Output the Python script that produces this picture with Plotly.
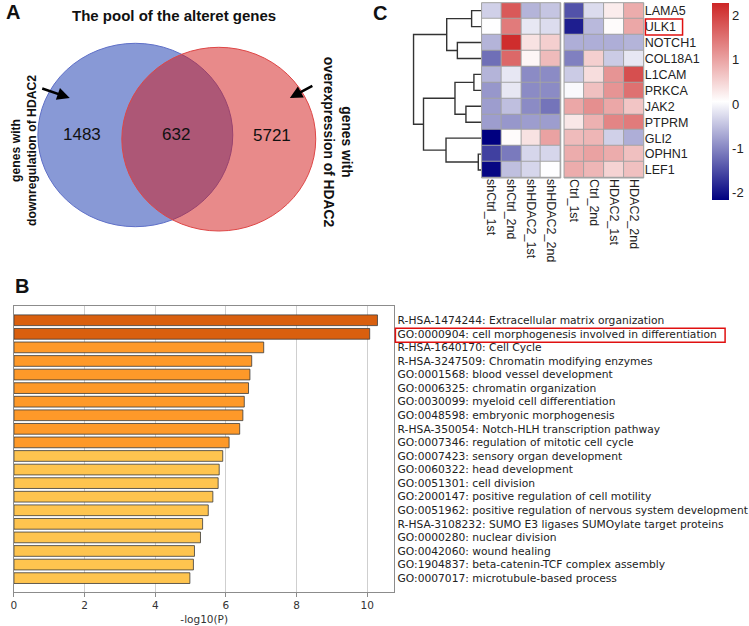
import plotly.graph_objects as go

W, H = 749, 626
def px(x): return x / W
def py(y): return 1 - y / H

# ---------------- Panel A data ----------------
venn_title = "The pool of the alteret genes"
venn_counts = [1483, 632, 5721]
venn_left_label = "genes with<br>downregulation of HDAC2"
venn_right_label = "genes with<br>overexpression of HDAC2"

# ---------------- Panel B data ----------------
terms = [
    "R-HSA-1474244: Extracellular matrix organization",
    "GO:0000904: cell morphogenesis involved in differentiation",
    "R-HSA-1640170: Cell Cycle",
    "R-HSA-3247509: Chromatin modifying enzymes",
    "GO:0001568: blood vessel development",
    "GO:0006325: chromatin organization",
    "GO:0030099: myeloid cell differentiation",
    "GO:0048598: embryonic morphogenesis",
    "R-HSA-350054: Notch-HLH transcription pathway",
    "GO:0007346: regulation of mitotic cell cycle",
    "GO:0007423: sensory organ development",
    "GO:0060322: head development",
    "GO:0051301: cell division",
    "GO:2000147: positive regulation of cell motility",
    "GO:0051962: positive regulation of nervous system development",
    "R-HSA-3108232: SUMO E3 ligases SUMOylate target proteins",
    "GO:0000280: nuclear division",
    "GO:0042060: wound healing",
    "GO:1904837: beta-catenin-TCF complex assembly",
    "GO:0007017: microtubule-based process",
]
neg_log10_p = [10.29, 10.07, 7.07, 6.73, 6.68, 6.64, 6.52, 6.48, 6.39, 6.09,
               5.91, 5.81, 5.78, 5.63, 5.50, 5.34, 5.28, 5.11, 5.08, 4.98]
bar_tiers = [0, 0, 1, 1, 1, 1, 1, 1, 1, 1, 2, 2, 2, 2, 2, 2, 2, 2, 2, 2]
tier_colors = ["#D95F0E", "#FE9929", "#FEC44F"]

# ---------------- Panel C data ----------------
genes = ["LAMA5", "ULK1", "NOTCH1", "COL18A1", "L1CAM", "PRKCA",
         "JAK2", "PTPRM", "GLI2", "OPHN1", "LEF1"]
samples_left = ["shCtrl_1st", "shCtrl_2nd", "shHDAC2_1st", "shHDAC2_2nd"]
samples_right = ["Ctrl_1st", "Ctrl_2nd", "HDAC2_1st", "HDAC2_2nd"]
shCtrl_1st = [-0.35, 0.05, -0.60, -1.20, -0.60, -0.85, -0.80, -0.80, -2.16, -1.60, -2.10]
shCtrl_2nd = [1.75, 1.40, 2.20, 1.60, -0.15, -0.15, -0.50, -0.85, 0.10, -1.10, -0.50]
shHDAC2_1st = [-0.60, -0.15, 0.35, 0.15, -0.95, -0.95, -0.95, -0.80, 0.35, -0.30, -0.30]
shHDAC2_2nd = [-0.45, -0.25, 0.55, 0.75, -0.95, -0.95, -1.15, -0.80, 1.00, -0.30, 0.05]
Ctrl_1st = [-1.45, -1.90, -0.65, -1.05, -0.40, 0.00, 0.95, 0.30, 0.75, 0.90, 0.90]
Ctrl_2nd = [-0.25, -0.55, -0.65, 0.55, 0.40, 0.70, 1.20, 0.85, 0.80, 1.00, 0.80]
HDAC2_1st = [0.25, 0.10, -0.65, -0.40, 1.15, 1.15, 0.95, 1.30, -0.35, 0.90, 0.50]
HDAC2_2nd = [0.90, 0.95, -0.60, -0.15, 1.85, 1.50, 0.65, 1.40, -0.65, 0.70, 0.70]
z_min, z_max = -2.16, 2.27
cbar_ticks = [-2, -1, 0, 1, 2]
# row dendrogram merges: (child a, child b, height); leaves 0..10, new nodes 11..
row_merges = [
    (0, 1, 1.00), (2, 3, 2.43), (11, 12, 3.50),
    (4, 5, 0.77), (6, 7, 1.57), (14, 15, 2.67),
    (9, 10, 0.33), (8, 17, 3.57), (16, 18, 5.83),
    (13, 19, 6.83),
]

fig = go.Figure()

# ---------- Panel B bars ----------
fig.add_trace(go.Bar(
    x=neg_log10_p, y=list(range(len(terms))), orientation="h",
    marker=dict(color=[tier_colors[t] for t in bar_tiers],
                line=dict(color="#3a3a3a", width=0.8)),
    width=0.79, xaxis="x", yaxis="y", showlegend=False, hoverinfo="skip"))

# ---------- Panel C heatmaps ----------
cols_left = [shCtrl_1st, shCtrl_2nd, shHDAC2_1st, shHDAC2_2nd]
cols_right = [Ctrl_1st, Ctrl_2nd, HDAC2_1st, HDAC2_2nd]
zl = [[c[i] for c in cols_left] for i in range(len(genes))]
zr = [[c[i] for c in cols_right] for i in range(len(genes))]
fig.add_trace(go.Heatmap(z=zl, x=list(range(4)), y=list(range(len(genes))),
                         coloraxis="coloraxis", xgap=1, ygap=1,
                         xaxis="x2", yaxis="y2", hoverinfo="skip"))
fig.add_trace(go.Heatmap(z=zr, x=list(range(4)), y=list(range(len(genes))),
                         coloraxis="coloraxis", xgap=1, ygap=1,
                         xaxis="x3", yaxis="y3", hoverinfo="skip"))

# ---------- Dendrogram ----------
pos = {i: float(i) for i in range(len(genes))}
hgt = {i: 0.0 for i in range(len(genes))}
dx, dy = [], []
nid = len(genes)
for a, b, h in row_merges:
    dx += [hgt[a], h, h, hgt[b], None]
    dy += [pos[a], pos[a], pos[b], pos[b], None]
    pos[nid] = (pos[a] + pos[b]) / 2
    hgt[nid] = h
    nid += 1
fig.add_trace(go.Scatter(x=dx, y=dy, mode="lines",
                         line=dict(color="#333333", width=1.4),
                         xaxis="x4", yaxis="y4", showlegend=False, hoverinfo="skip"))

heat_dom_y = [py(178), py(2.7)]
rowrange = [len(genes) - 0.5, -0.5]
lab_font = dict(family="Liberation Sans, Arial", size=12.5, color="#222")
dv_font = dict(family="DejaVu Sans", size=10.5, color="#333")

fig.update_layout(
    width=W, height=H, autosize=False,
    margin=dict(l=0, r=0, t=0, b=0),
    paper_bgcolor="white", plot_bgcolor="white",
    xaxis=dict(domain=[px(11), px(393)], anchor="y", range=[0, 10.77],
               tickvals=[0, 2, 4, 6, 8, 10], showgrid=True, gridcolor="#cfcfcf",
               gridwidth=1, zeroline=False, showline=True, mirror=True,
               linecolor="#8c8c8c", linewidth=1, ticks="outside", ticklen=4,
               tickcolor="#8c8c8c", tickfont=dv_font,
               title=dict(text="-log10(P)", font=dv_font, standoff=5)),
    yaxis=dict(domain=[py(591.7), py(306)], anchor="x", range=[20.0, -1.05],
               side="right", tickvals=list(range(len(terms))), ticktext=terms,
               tickfont=dict(family="DejaVu Sans", size=10.7, color="#222"),
               ticks="", showgrid=False, zeroline=False, showline=True, mirror=True,
               linecolor="#8c8c8c", linewidth=1),
    xaxis2=dict(domain=[px(480.5), px(560)], anchor="y2", range=[-0.5, 3.5],
                tickvals=list(range(4)), ticktext=samples_left, tickangle=90,
                tickfont=lab_font, ticks="", showgrid=False, zeroline=False, showline=False),
    yaxis2=dict(domain=heat_dom_y, anchor="x2", range=rowrange,
                showticklabels=False, ticks="", showgrid=False, zeroline=False),
    xaxis3=dict(domain=[px(563.3), px(643.3)], anchor="y3", range=[-0.5, 3.5],
                tickvals=list(range(4)), ticktext=samples_right, tickangle=90,
                tickfont=lab_font, ticks="", showgrid=False, zeroline=False, showline=False),
    yaxis3=dict(domain=heat_dom_y, anchor="x3", range=rowrange, side="right",
                tickvals=list(range(len(genes))), ticktext=genes, tickfont=lab_font,
                ticks="", showgrid=False, zeroline=False),
    xaxis4=dict(domain=[px(400), px(480.5)], anchor="y4", range=[8.05, 0],
                visible=False),
    yaxis4=dict(domain=heat_dom_y, anchor="x4", range=rowrange, visible=False),
    coloraxis=dict(colorscale=[[0, "#000080"], [0.5, "#ffffff"], [1, "#CD2626"]],
                   cmin=z_min, cmax=z_max,
                   colorbar=dict(x=px(711.7), xanchor="left", y=py(101.5), yanchor="middle",
                                 len=197 / H, lenmode="fraction", thickness=17,
                                 thicknessmode="pixels", xpad=0, ypad=0, outlinewidth=0,
                                 tickvals=cbar_ticks, ticktext=[str(t) for t in cbar_ticks],
                                 ticks="", tickfont=dict(family="Liberation Sans, Arial",
                                                         size=13, color="#222"))),
)

shapes = []
# heatmap cell border background
for xr, yr in [("x2 domain", "y2 domain"), ("x3 domain", "y3 domain")]:
    shapes.append(dict(type="rect", xref=xr, yref=yr, x0=0, x1=1, y0=0, y1=1,
                       fillcolor="#a3a3a3", line=dict(width=0), layer="below"))
    shapes.append(dict(type="rect", xref=xr, yref=yr, x0=0, x1=1, y0=0, y1=1,
                       fillcolor="rgba(0,0,0,0)", line=dict(color="#a3a3a3", width=1),
                       layer="above"))
# Venn circles
shapes.append(dict(type="circle", xref="paper", yref="paper",
                   x0=px(35), x1=px(230.7), y0=py(226.7), y1=py(43.3),
                   fillcolor="rgb(136,153,214)", line=dict(color="rgb(95,112,200)", width=1)))
shapes.append(dict(type="circle", xref="paper", yref="paper",
                   x0=px(119.3), x1=px(314), y0=py(231), y1=py(47.3),
                   fillcolor="rgba(209,21,21,0.5)", line=dict(color="rgb(222,70,70)", width=1)))
# highlight boxes
shapes.append(dict(type="rect", xref="paper", yref="paper",
                   x0=px(394), x1=px(725), y0=py(342.3), y1=py(328.3),
                   line=dict(color="#e01010", width=1.5)))
shapes.append(dict(type="rect", xref="paper", yref="paper",
                   x0=px(645), x1=px(682.3), y0=py(35), y1=py(19),
                   line=dict(color="#e01010", width=1.5)))
fig.update_layout(shapes=shapes)

ann = []
bold = dict(family="Liberation Sans, Arial", size=20, color="#111")
for t, x, y in [("A", 10, 12), ("B", 19, 286), ("C", 379, 13)]:
    ann.append(dict(text="<b>%s</b>" % t, x=px(x), y=py(y), xref="paper", yref="paper",
                    showarrow=False, font=bold, xanchor="center", yanchor="middle"))
ann.append(dict(text="<b>%s</b>" % venn_title, x=px(172), y=py(15), xref="paper",
                yref="paper", showarrow=False, xanchor="center", yanchor="middle",
                font=dict(family="Liberation Sans, Arial", size=15, color="#111")))
for v, x, y in zip(venn_counts, [79.5, 173.8, 270], [134.3, 134.3, 135.5]):
    ann.append(dict(text=str(v), x=px(x), y=py(y), xref="paper", yref="paper",
                    showarrow=False, xanchor="center", yanchor="middle",
                    font=dict(family="Liberation Sans, Arial", size=17, color="#111")))
ann.append(dict(text="<b>%s</b>" % venn_left_label, x=px(21), y=py(150), xref="paper",
                yref="paper", showarrow=False, textangle=-90, xanchor="center",
                yanchor="middle",
                font=dict(family="Liberation Sans, Arial", size=12.2, color="#111")))
ann.append(dict(text="<b>%s</b>" % venn_right_label, x=px(335.5), y=py(142), xref="paper",
                yref="paper", showarrow=False, textangle=90, xanchor="center",
                yanchor="middle",
                font=dict(family="Liberation Sans, Arial", size=13.8, color="#111")))
for hx, hy, axp, ayp in [(67, 98, -29, -10), (288, 98, 24, -13)]:
    ann.append(dict(text="", x=px(hx), y=py(hy), xref="paper", yref="paper",
                    showarrow=True, ax=axp, ay=ayp, arrowhead=2, arrowsize=1,
                    arrowwidth=2.5, arrowcolor="#000", standoff=0))
fig.update_layout(annotations=ann)

fig.write_html("out.html", config={"displayModeBar": False},
               post_script="document.body.style.margin='0';document.body.style.padding='0';"
                           "document.body.style.overflow='hidden';")
